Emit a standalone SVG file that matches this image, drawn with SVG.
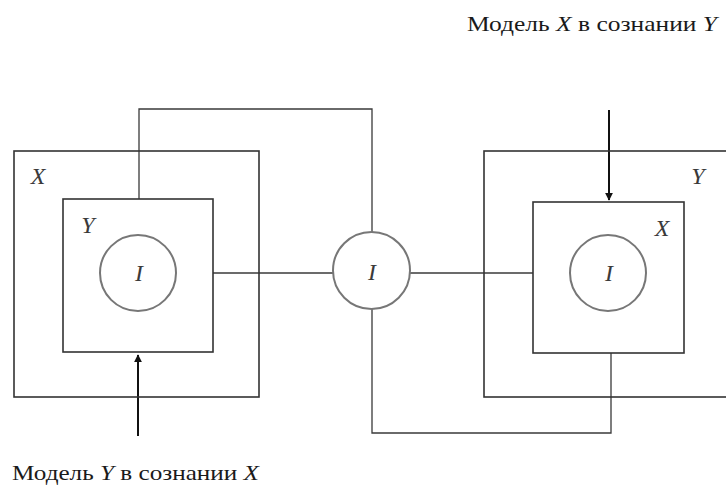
<svg xmlns="http://www.w3.org/2000/svg" width="726" height="487" viewBox="0 0 726 487">
<style>
.box{fill:none;stroke:#333;stroke-width:1.6}
.circ{fill:#fff;stroke:#777;stroke-width:2}
.ln{fill:none;stroke:#3a3a3a;stroke-width:1.3}
.arr{fill:none;stroke:#111;stroke-width:2}
.lbl{font-family:"Liberation Serif","Times New Roman",serif;font-style:italic;font-size:24px;fill:#3a3a3a}
.cap{font-family:"Liberation Serif","Times New Roman",serif;font-size:22px;fill:#1a1a1a}
.it{font-style:italic}
</style>
<defs>
<marker id="ah" viewBox="0 0 10 10" refX="9" refY="5" markerWidth="4" markerHeight="4" orient="auto">
<path d="M0,0 L10,5 L0,10 z" fill="#111"/>
</marker>
</defs>
<rect width="726" height="487" fill="#fff"/>
<g id="connectors">
<polyline class="ln" points="139,199 139,109 372,109 372,232"/>
<line class="ln" x1="213" y1="273" x2="333" y2="273"/>
<line class="ln" x1="410" y1="273" x2="533" y2="273"/>
<polyline class="ln" points="372,309 372,433 611,433 611,353"/>
<line class="arr" x1="138" y1="436" x2="138" y2="355" marker-end="url(#ah)"/>
<line class="arr" x1="609" y1="110" x2="609" y2="200" marker-end="url(#ah)"/>
</g>
<g id="outerX">
<rect class="box" x="14" y="151" width="245" height="246"/>
<text class="lbl" x="38" y="184" text-anchor="middle">X</text>
</g>
<g id="innerY">
<rect class="box" x="63" y="199" width="150" height="153"/>
<text class="lbl" x="88" y="233" text-anchor="middle">Y</text>
</g>
<g id="leftI">
<circle class="circ" cx="138" cy="273" r="38"/>
<text class="lbl" x="139" y="281" text-anchor="middle">I</text>
</g>
<g id="centerI">
<circle class="circ" cx="371.5" cy="270.5" r="38.5"/>
<text class="lbl" x="372" y="280" text-anchor="middle">I</text>
</g>
<g id="outerY">
<rect class="box" x="484" y="151" width="250" height="246"/>
<text class="lbl" x="698" y="184" text-anchor="middle">Y</text>
</g>
<g id="innerX">
<rect class="box" x="533" y="202" width="151" height="151"/>
<text class="lbl" x="662" y="236" text-anchor="middle">X</text>
</g>
<g id="rightI">
<circle class="circ" cx="608" cy="273" r="38"/>
<text class="lbl" x="609" y="281" text-anchor="middle">I</text>
</g>
<g id="captionTop">
<text class="cap" x="467" y="31" textLength="250" lengthAdjust="spacingAndGlyphs">Модель <tspan class="it">X</tspan> в сознании <tspan class="it">Y</tspan></text>
</g>
<g id="captionBottom">
<text class="cap" x="12" y="480" textLength="247" lengthAdjust="spacingAndGlyphs">Модель <tspan class="it">Y</tspan> в сознании <tspan class="it">X</tspan></text>
</g>
</svg>
